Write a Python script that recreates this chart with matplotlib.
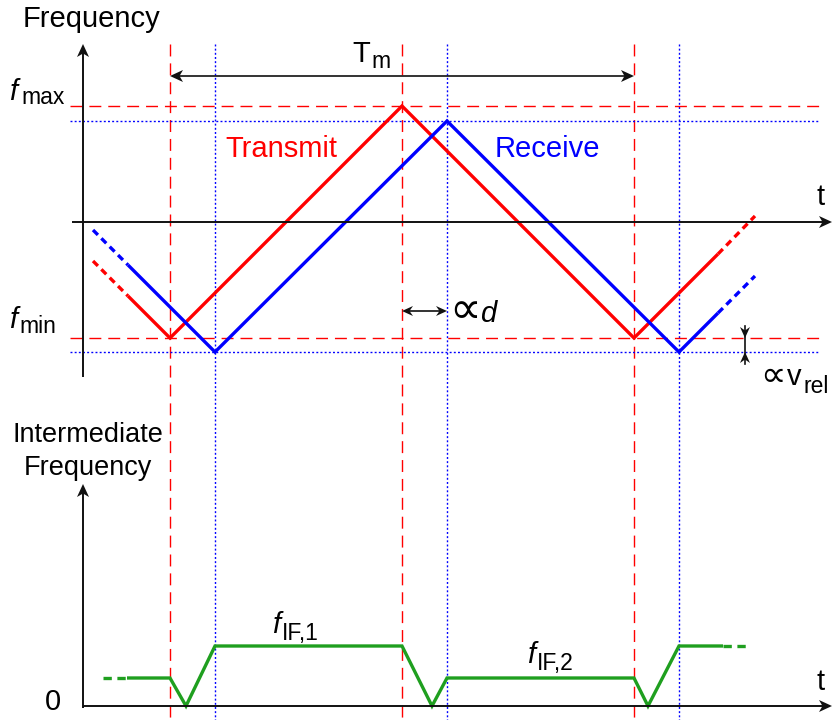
import matplotlib
matplotlib.use("Agg")
import matplotlib.pyplot as plt
from matplotlib.patches import Polygon

plt.rcParams['font.family'] = ['Liberation Sans', 'DejaVu Sans']
plt.rcParams['lines.scale_dashes'] = False

# ---- diagram data (canvas units, y grows downward) ----
t_tx = [170, 402, 634]          # transmit chirp turning points
t_rx = [215, 447, 679]          # receive chirp turning points (delayed)
f_max_tx, f_min_tx = 106, 338
f_max_rx, f_min_rx = 121, 352

tx_solid_t = [128, 170, 402, 634, 718]
tx_solid_f = [296, 338, 106, 338, 254]
tx_left_t, tx_left_f = [93, 128], [261, 296]
tx_right_t, tx_right_f = [718, 755], [254, 216]

rx_solid_t = [128, 215, 447, 679, 718]
rx_solid_f = [265, 352, 121, 352, 313]
rx_left_t, rx_left_f = [93, 128], [230, 265]
rx_right_t, rx_right_f = [718, 755], [313, 276]

if_t = [127, 170, 186, 215, 402, 432, 447, 634, 648, 679, 723]
if_f = [678, 678, 706, 646, 646, 706, 678, 678, 706, 646, 646]
if_left_t, if_left_f = [103, 127], [678, 678]
if_right_t, if_right_f = [723, 750], [646, 646]

RED = '#ff0000'
BLUE = '#0000ff'
GREEN = '#1f9f1f'
BLACK = '#111111'

fig = plt.figure(figsize=(8.33, 7.2), dpi=100)
ax = fig.add_axes([0, 0, 1, 1])
ax.set_xlim(0, 833)
ax.set_ylim(720, 0)
ax.axis('off')

RED_DASH = (8.6, 5.0)
BLUE_DOT = (1.4, 1.6)


def head(tip, d, L=13, W=12, notch=3.5):
    tx, ty = tip
    dx, dy = d
    nx, ny = -dy, dx
    bx, by = tx - dx * L, ty - dy * L
    pts = [(tx, ty),
           (bx + nx * W / 2, by + ny * W / 2),
           (tx - dx * (L - notch), ty - dy * (L - notch)),
           (bx - nx * W / 2, by - ny * W / 2)]
    ax.add_patch(Polygon(pts, closed=True, facecolor=BLACK, edgecolor='none', zorder=6))


def arrow_line(p0, p1, lw=1.4, L=13, W=12, both=False):
    (x0, y0), (x1, y1) = p0, p1
    n = ((x1 - x0) ** 2 + (y1 - y0) ** 2) ** 0.5
    dx, dy = (x1 - x0) / n, (y1 - y0) / n
    s = L - 4
    xa, ya = (x0 + dx * s, y0 + dy * s) if both else (x0, y0)
    ax.plot([xa, x1 - dx * s], [ya, y1 - dy * s], color=BLACK, lw=lw,
            solid_capstyle='butt', zorder=5)
    head((x1, y1), (dx, dy), L, W)
    if both:
        head((x0, y0), (-dx, -dy), L, W)


# ---- guide lines ----
for t in t_tx:
    ax.plot([t, t], [44, 720], color=RED, lw=1.0, dashes=RED_DASH, zorder=1)
for t in t_rx:
    ax.plot([t, t], [44, 720], color=BLUE, lw=1.0, dashes=BLUE_DOT, zorder=1)
for f in (f_max_tx, f_min_tx):
    ax.plot([70, 820], [f, f], color=RED, lw=1.0, dashes=RED_DASH, zorder=1)
for f in (f_max_rx, f_min_rx):
    ax.plot([70, 820], [f, f], color=BLUE, lw=1.0, dashes=BLUE_DOT, zorder=1)

# ---- chirps ----
CH = dict(lw=2.4, solid_capstyle='butt', dash_capstyle='butt', zorder=3)
EXT = (5.0, 3.5)
ax.plot(tx_solid_t, tx_solid_f, color=RED, solid_joinstyle='miter', **CH)
ax.plot(tx_left_t, tx_left_f, color=RED, dashes=EXT, **CH)
ax.plot(tx_right_t, tx_right_f, color=RED, dashes=EXT, **CH)
ax.plot(rx_solid_t, rx_solid_f, color=BLUE, solid_joinstyle='miter', **CH)
ax.plot(rx_left_t, rx_left_f, color=BLUE, dashes=EXT, **CH)
ax.plot(rx_right_t, rx_right_f, color=BLUE, dashes=EXT, **CH)

# ---- intermediate frequency ----
ax.plot(if_t, if_f, color=GREEN, solid_joinstyle='miter', **CH)
ax.plot(if_left_t, if_left_f, color=GREEN, dashes=(6.0, 4.0), **CH)
ax.plot(if_right_t, if_right_f, color=GREEN, dashes=(6.0, 4.0), **CH)

# ---- axes ----
arrow_line((83, 377), (83, 44))
arrow_line((72, 222), (832, 222))
arrow_line((83, 708), (83, 484))
arrow_line((83, 706), (832, 706))

# ---- dimension arrows ----
arrow_line((t_tx[0], 76), (t_tx[2], 76), lw=1.2, both=True)
arrow_line((t_tx[1], 311), (t_rx[1], 311), lw=1.2, L=11, W=10, both=True)
ax.plot([745, 745], [326, 364], color=BLACK, lw=1.2, zorder=5)
head((745, f_min_tx), (0, 1), L=11, W=10)
head((745, f_min_rx), (0, -1), L=11, W=10)

# ---- text ----
FS, SUB, PROP = 21, 16.5, 32
ax.text(23, 27, 'Frequency', fontsize=FS, va='baseline', ha='left')
ax.text(225, 157, 'Transmit', fontsize=FS, color=RED, va='baseline')
ax.text(495, 157, 'Receive', fontsize=FS, color=BLUE, va='baseline')
ax.text(352, 62, 'T', fontsize=FS, va='baseline')
ax.text(371, 68, 'm', fontsize=SUB, va='baseline')
ax.text(9, 100, 'f', fontsize=FS, style='italic', va='baseline')
ax.text(21, 104, 'max', fontsize=SUB, va='baseline')
ax.text(9, 328, 'f', fontsize=FS, style='italic', va='baseline')
ax.text(19, 333, 'min', fontsize=SUB, va='baseline')
ax.text(449, 323, '\u221d', fontsize=PROP, va='baseline')
ax.text(480, 322, 'd', fontsize=FS, style='italic', va='baseline')
ax.text(760, 386, '\u221d', fontsize=PROP * 0.8, va='baseline')
ax.text(787, 385, 'v', fontsize=FS, va='baseline')
ax.text(804, 393, 'rel', fontsize=SUB, va='baseline')
ax.text(817, 205, 't', fontsize=FS, va='baseline')
ax.text(817, 690, 't', fontsize=FS, va='baseline')
ax.text(88, 442, 'Intermediate', fontsize=19.5, ha='center', va='baseline')
ax.text(88, 475, 'Frequency', fontsize=19.5, ha='center', va='baseline')
ax.text(53, 710, '0', fontsize=FS, ha='center', va='baseline')
ax.text(272, 633, 'f', fontsize=FS, style='italic', va='baseline')
ax.text(282, 640, 'IF,1', fontsize=SUB, va='baseline')
ax.text(527, 663, 'f', fontsize=FS, style='italic', va='baseline')
ax.text(537, 670, 'IF,2', fontsize=SUB, va='baseline')

fig.savefig('out.png', dpi=100)
